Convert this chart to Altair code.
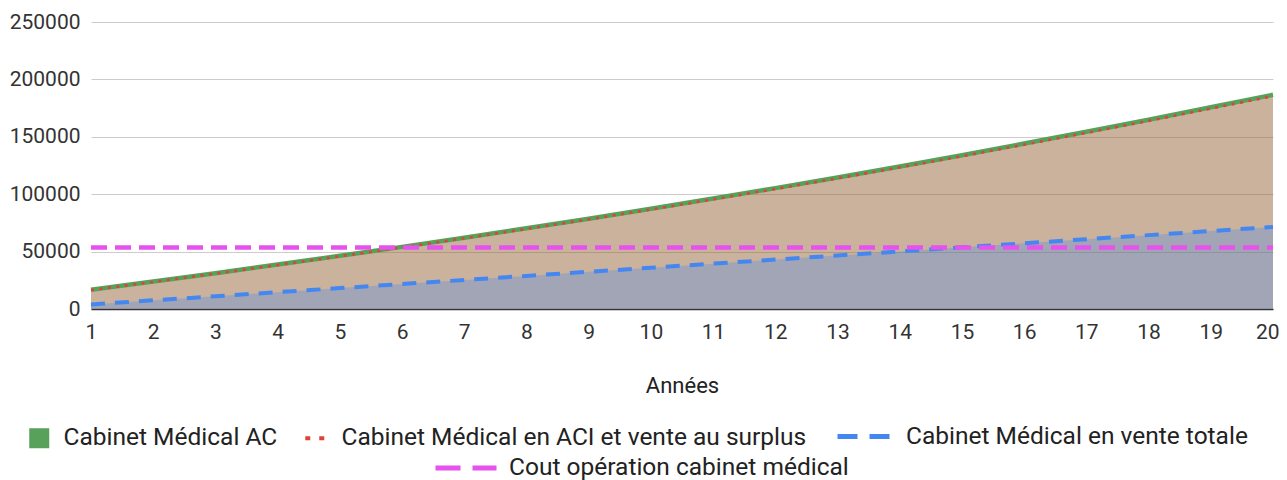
import altair as alt
import pandas as pd

FONT = "Roboto"

years = [1, 2, 3, 4, 5, 6, 7, 8, 9, 10, 11, 12, 13, 14, 15, 16, 17, 18, 19, 20]
y_ticks = [0, 50000, 100000, 150000, 200000, 250000]

name_ac = "Cabinet Médical AC"
name_aci = "Cabinet Médical en ACI et vente au surplus"
name_tot = "Cabinet Médical en vente totale"
name_cout = "Cout opération cabinet médical"

val_ac = [16800, 23900, 31200, 38700, 46300, 54100, 62100, 70300, 78700, 87300,
          96200, 105300, 114600, 124200, 134000, 144100, 154400, 164900, 175700, 186600]
val_aci = [16500, 23600, 30850, 38300, 45900, 53650, 61600, 69750, 78100, 86650,
           95500, 104550, 113800, 123350, 133100, 143150, 153400, 163850, 174600, 185450]
val_tot = [4000, 7550, 11100, 14650, 18200, 21750, 25300, 28850, 32400, 35950,
           39500, 43050, 46600, 50150, 53700, 57250, 60800, 64350, 67900, 71500]
val_cout = [53500, 53500, 53500, 53500, 53500, 53500, 53500, 53500, 53500, 53500,
            53500, 53500, 53500, 53500, 53500, 53500, 53500, 53500, 53500, 53500]

c_green = "#57a15b"
c_green_fill = "#3a9d45"
c_red = "#db4437"
c_blue = "#4587f1"
c_pink = "#e652ee"


def frame(vals, name):
    return pd.DataFrame({"annee": years, "valeur": vals, "serie": [name] * len(years)})


d_ac = frame(val_ac, name_ac)
d_aci = frame(val_aci, name_aci)
d_tot = frame(val_tot, name_tot)
d_cout = frame(val_cout, name_cout)

x_enc = alt.X(
    "annee:Q",
    scale=alt.Scale(domain=[1, 20], nice=False, zero=False),
    axis=alt.Axis(
        values=years, title="Années", format="d",
        labelFont=FONT, labelFontSize=21, labelColor="#333333", labelPadding=12,
        labelFlush=False, labelOverlap=False,
        labelAlign={"condition": {"test": "datum.value == 20", "value": "right"}, "value": "center"},
        labelOffset={"condition": {"test": "datum.value == 20", "value": 6}, "value": 0},
        ticks=False, grid=False,
        domain=True, domainColor="#333333", domainWidth=1.6,
        titleFont=FONT, titleFontSize=22, titleFontWeight="normal",
        titleColor="#222222", titlePadding=33,
    ),
)
y_enc = alt.Y(
    "valeur:Q",
    stack=None,
    scale=alt.Scale(domain=[0, 250000], nice=False),
    axis=alt.Axis(
        values=y_ticks, title=None, format="d",
        labelFont=FONT, labelFontSize=21, labelColor="#333333", labelPadding=11,
        ticks=False, domain=False,
        grid=True, gridColor="#cccccc", gridWidth=1,
    ),
)


def area(d, color):
    return alt.Chart(d).mark_area(color=color, opacity=0.3).encode(x=x_enc, y=y_enc)


def leg(lx, ly, **kw):
    return alt.Legend(
        title=None, orient="none", legendX=lx, legendY=ly, padding=0,
        labelFont=FONT, labelFontSize=24.5, labelColor="#222222", labelLimit=2000, **kw
    )


def line(d, name, color, legend, **mk):
    return alt.Chart(d).mark_line(strokeCap="butt", **mk).encode(
        x=x_enc, y=y_enc,
        color=alt.Color("serie:N", scale=alt.Scale(domain=[name], range=[color]), legend=legend),
    )


l_ac = line(d_ac, name_ac, c_green,
            leg(-64, 404, symbolType="square", symbolSize=400, symbolFillColor=c_green,
                symbolStrokeColor=c_green, symbolStrokeWidth=0, symbolOpacity=1, labelOffset=12),
            strokeWidth=4.5)
l_aci = line(d_aci, name_aci, c_red,
             leg(212, 404, symbolType="stroke", symbolSize=400, symbolDash=[5, 9],
                 symbolStrokeColor=c_red, symbolStrokeWidth=4, symbolOpacity=1, labelOffset=14),
             strokeWidth=2.6, strokeDash=[3, 5.5])
l_tot = line(d_tot, name_tot, c_blue,
             leg(744, 386, symbolType="stroke", symbolSize=2704, symbolDash=[20, 12],
                 symbolStrokeColor=c_blue, symbolStrokeWidth=5, symbolOpacity=1, labelOffset=14),
             strokeWidth=4, strokeDash=[14, 10])
l_cout = line(d_cout, name_cout, c_pink,
              leg(342, 413, symbolType="stroke", symbolSize=3721, symbolDash=[25, 12],
                  symbolStrokeColor=c_pink, symbolStrokeWidth=5, symbolOpacity=1, labelOffset=10),
              strokeWidth=4.5, strokeDash=[16, 8])

chart = (
    alt.layer(
        area(d_ac, c_green_fill), area(d_aci, c_red), area(d_tot, c_blue),
        l_ac, l_aci, l_tot, l_cout,
    )
    .resolve_scale(color="independent")
    .properties(
        width=1182, height=287,
        autosize=alt.AutoSizeParams(type="none"),
        padding={"left": 83, "top": 14, "right": 6, "bottom": 171},
        background="white",
    )
    .configure(font=FONT)
    .configure_view(stroke="transparent")
    .configure_axisY(domain=False)
)

chart.save("out.html", embed_options={"renderer": "svg", "actions": False})
